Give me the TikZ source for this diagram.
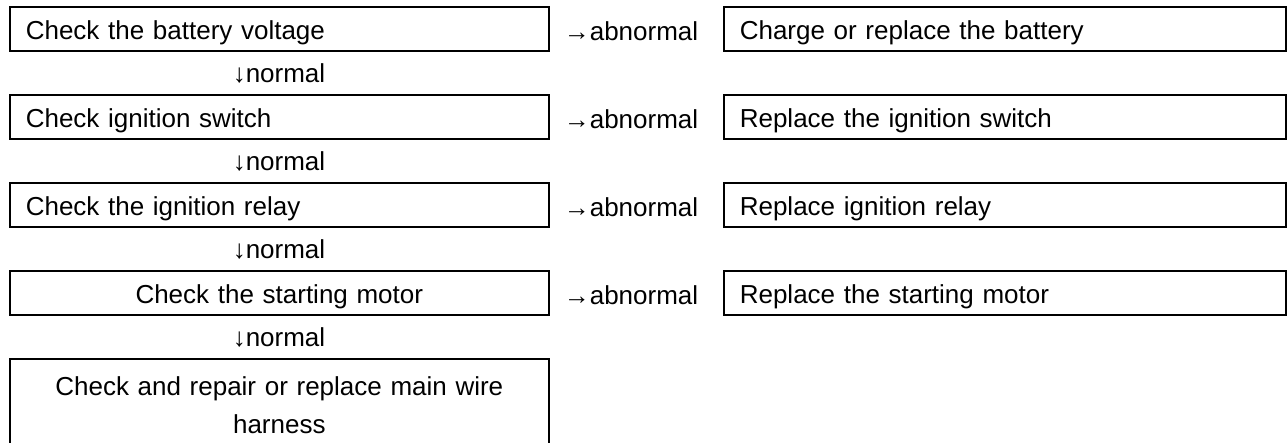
\documentclass[tikz,border=0pt]{standalone}
\usepackage{fontspec}
\setmainfont{Liberation Sans}
\begin{document}
\begin{tikzpicture}[x=1pt,y=-1pt,
  every node/.style={font=\fontsize{26}{30}\selectfont, inner ysep=0pt},
  boxbase/.style={draw, line width=1.6pt, anchor=north west, minimum height=44pt, inner xsep=16pt},
  lbox/.style={boxbase, text width=507pt, align=left, text height=27pt, text depth=5pt},
  rbox/.style={boxbase, text width=530pt, align=left, text height=27pt, text depth=5pt},
  bigbox/.style={boxbase, text width=507pt, align=center, minimum height=92pt, font=\fontsize{26}{38}\selectfont},
  lbl/.style={anchor=west, inner xsep=0pt}
]
\useasboundingbox (0,0) rectangle (1287,443);
\node[lbox] (c1) at (9,6) {Check the battery voltage};
\node[lbox] (c2) at (9,94) {Check ignition switch};
\node[lbox] (c3) at (9,182) {Check the ignition relay};
\node[lbox, align=center] (c4) at (9,270) {Check the starting motor};
\node[bigbox] (c5) at (9,358) {Check and repair or replace main wire\\harness};
\node[rbox] (r1) at (723,6) {Charge or replace the battery};
\node[rbox] (r2) at (723,94) {Replace the ignition switch};
\node[rbox] (r3) at (723,182) {Replace ignition relay};
\node[rbox] (r4) at (723,270) {Replace the starting motor};
\foreach \i in {1,...,4}{
  \node[lbl] (a\i) at ([xshift=14pt,yshift=-2pt]c\i.east) {→abnormal};
}
\foreach \i/\y in {1/73,2/161,3/249,4/337}{
  \node (n\i) at (279,\y) {↓normal};
}
\end{tikzpicture}
\end{document}
